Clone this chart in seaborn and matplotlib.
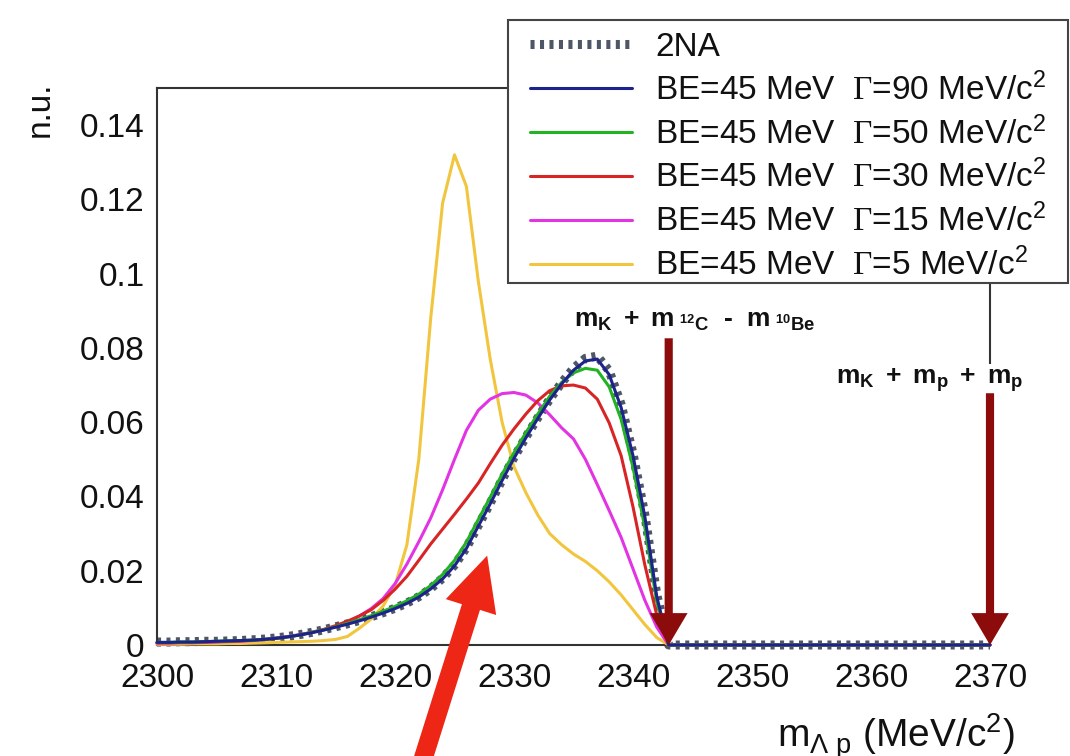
import numpy as np
import pandas as pd
import matplotlib
matplotlib.use("Agg")
import matplotlib.pyplot as plt
import seaborn as sns
from matplotlib.patches import FancyArrowPatch, Rectangle, ArrowStyle
from matplotlib.ticker import FuncFormatter, MultipleLocator

# ---------------------------------------------------------------- data
# invariant-mass bins (MeV/c^2) where the spectra are non-zero
mass = list(range(2300, 2344))
mass_max = 2370

spec_2na = [0.0008, 0.0008, 0.0009, 0.0009, 0.0010, 0.0010, 0.0011, 0.0012, 0.0014, 0.0016,
            0.0019, 0.0023, 0.0028, 0.0034, 0.0041, 0.0049, 0.0057, 0.0066, 0.0076, 0.0087,
            0.0099, 0.0113, 0.0130, 0.0152, 0.0180, 0.0215, 0.0262, 0.0322, 0.0382, 0.0445,
            0.0505, 0.0560, 0.0612, 0.0662, 0.0706, 0.0745, 0.0772, 0.0778, 0.0738, 0.0648,
            0.0515, 0.0350, 0.0135, 0.0]
spec_g90 = [0.0007, 0.0007, 0.0008, 0.0008, 0.0009, 0.0010, 0.0011, 0.0012, 0.0013, 0.0015,
            0.0018, 0.0022, 0.0027, 0.0033, 0.0040, 0.0048, 0.0056, 0.0065, 0.0075, 0.0086,
            0.0098, 0.0112, 0.0129, 0.0151, 0.0178, 0.0213, 0.0260, 0.0320, 0.0380, 0.0443,
            0.0503, 0.0558, 0.0610, 0.0660, 0.0703, 0.0740, 0.0765, 0.0770, 0.0728, 0.0640,
            0.0510, 0.0345, 0.0130, 0.0]
spec_g50 = [0.0007, 0.0007, 0.0008, 0.0008, 0.0009, 0.0010, 0.0011, 0.0012, 0.0013, 0.0015,
            0.0018, 0.0022, 0.0027, 0.0034, 0.0041, 0.0049, 0.0058, 0.0068, 0.0079, 0.0091,
            0.0104, 0.0119, 0.0137, 0.0160, 0.0190, 0.0228, 0.0277, 0.0338, 0.0398, 0.0460,
            0.0518, 0.0572, 0.0622, 0.0670, 0.0707, 0.0733, 0.0745, 0.0740, 0.0695, 0.0608,
            0.0478, 0.0315, 0.0115, 0.0]
spec_g30 = [0.0006, 0.0006, 0.0007, 0.0007, 0.0008, 0.0009, 0.0010, 0.0011, 0.0013, 0.0015,
            0.0018, 0.0022, 0.0027, 0.0034, 0.0042, 0.0052, 0.0064, 0.0078, 0.0095, 0.0120,
            0.0150, 0.0185, 0.0228, 0.0272, 0.0312, 0.0352, 0.0393, 0.0436, 0.0488, 0.0538,
            0.0582, 0.0622, 0.0658, 0.0685, 0.0698, 0.0700, 0.0692, 0.0662, 0.0598, 0.0510,
            0.0372, 0.0215, 0.0080, 0.0]
spec_g15 = [0.0005, 0.0005, 0.0006, 0.0006, 0.0007, 0.0008, 0.0009, 0.0010, 0.0012, 0.0015,
            0.0019, 0.0023, 0.0028, 0.0034, 0.0041, 0.0050, 0.0062, 0.0078, 0.0098, 0.0125,
            0.0165, 0.0218, 0.0278, 0.0342, 0.0418, 0.0500, 0.0578, 0.0632, 0.0662, 0.0677,
            0.0680, 0.0673, 0.0652, 0.0620, 0.0585, 0.0555, 0.0500, 0.0432, 0.0362, 0.0290,
            0.0205, 0.0120, 0.0048, 0.0]
spec_g5 = [0.0002, 0.0002, 0.0002, 0.0003, 0.0003, 0.0003, 0.0004, 0.0004, 0.0005, 0.0006,
           0.0007, 0.0008, 0.0009, 0.0010, 0.0012, 0.0015, 0.0023, 0.0045, 0.0070, 0.0105,
           0.0160, 0.0270, 0.0500, 0.0880, 0.1190, 0.1320, 0.1235, 0.0980, 0.0770, 0.0600,
           0.0480, 0.0410, 0.0350, 0.0300, 0.0270, 0.0245, 0.0225, 0.0200, 0.0170, 0.0135,
           0.0095, 0.0055, 0.0020, 0.0]

series_labels = ["2NA",
                 r"BE=45 MeV  $\Gamma$=90 MeV/c$^{\mathsf{2}}$",
                 r"BE=45 MeV  $\Gamma$=50 MeV/c$^{\mathsf{2}}$",
                 r"BE=45 MeV  $\Gamma$=30 MeV/c$^{\mathsf{2}}$",
                 r"BE=45 MeV  $\Gamma$=15 MeV/c$^{\mathsf{2}}$",
                 r"BE=45 MeV  $\Gamma$=5 MeV/c$^{\mathsf{2}}$"]
series_values = [spec_2na, spec_g90, spec_g50, spec_g30, spec_g15, spec_g5]
series_colors = ["#4f5766", "#1d238c", "#22b322", "#d82424", "#e234e2", "#f1c63e"]

# kinematic thresholds marked with arrows
threshold_mass = [2343, 2370]
threshold_top = [0.0826, 0.0678]
threshold_text = [r"$\mathbf{m_K\ +\ m_{\ {}^{12}C}}$  -  $\mathbf{m_{\ {}^{10}Be}}$",
                  r"$\mathbf{m_K\ +\ m_p\ +\ m_p}$"]
threshold_text_pos = [(2345.2, 0.0872), (2364.9, 0.0712)]

xticks = list(range(2300, 2371, 10))
yticks = [0, 0.02, 0.04, 0.06, 0.08, 0.10, 0.12, 0.14]

# ---------------------------------------------------------------- style
sns.set_theme(style="white")
plt.rcParams["font.family"] = ["Liberation Sans", "DejaVu Sans"]
plt.rcParams["mathtext.fontset"] = "custom"
plt.rcParams["mathtext.rm"] = "Liberation Serif"
plt.rcParams["mathtext.sf"] = "Liberation Sans"
plt.rcParams["mathtext.it"] = "Liberation Sans:italic"
plt.rcParams["mathtext.bf"] = "Liberation Sans:bold"

W, H = 1070, 756
fig = plt.figure(figsize=(W / 100, H / 100), dpi=100)
fig.patch.set_facecolor("white")
ax = fig.add_axes([157 / W, 1 - 645 / H, (990 - 157) / W, (645 - 88) / H])

# full mass axis: spectra vanish above the kinematic limit
full_mass = np.arange(2300, mass_max + 1)
frames = []
for lab, vals in zip(series_labels, series_values):
    v = np.zeros(len(full_mass))
    v[:len(vals)] = vals
    frames.append(pd.DataFrame({"mass": full_mass, "nu": v, "model": lab}))
df = pd.concat(frames, ignore_index=True)

# 2NA: thick dotted line underneath
sub = df[df.model == series_labels[0]]
sns.lineplot(data=sub, x="mass", y="nu", ax=ax, color=series_colors[0], lw=6.5,
             linestyle=(0, (0.45, 0.6)), label=series_labels[0], zorder=2)
# Lambda-p spectra for different widths, narrowest first so the broad ones sit on top
for i in [5, 4, 3, 2, 1]:
    sub = df[df.model == series_labels[i]]
    sns.lineplot(data=sub, x="mass", y="nu", ax=ax, color=series_colors[i], lw=2.2,
                 label=series_labels[i], zorder=3 + (5 - i))
for ln in ax.lines:
    ln.set_clip_on(False)

ax.set_xlim(2300, mass_max)
ax.set_ylim(0, 0.15)
ax.set_xticks(xticks)
ax.xaxis.set_minor_locator(MultipleLocator(2))
ax.set_yticks(yticks)
ax.yaxis.set_minor_locator(MultipleLocator(0.004))
ax.yaxis.set_major_formatter(FuncFormatter(lambda v, p: f"{v:g}"))

tick_col = "#333333"
ax.tick_params(axis="both", which="both", direction="in", colors=tick_col,
               labelcolor="#111111", width=1.1, labelsize=24)
ax.tick_params(axis="x", which="major", length=12, pad=13)
ax.tick_params(axis="x", which="minor", length=6)
ax.tick_params(axis="y", which="major", length=17, pad=9)
ax.tick_params(axis="y", which="minor", length=9)
for s in ax.spines.values():
    s.set_visible(True)
    s.set_color(tick_col)
    s.set_linewidth(1.5)
ax.grid(False)

ax.set_ylabel("n.u.", fontsize=24, color="#111111")
ax.yaxis.set_label_coords(-0.121, 1.012)
ax.yaxis.label.set_ha("right")
ax.set_xlabel(r"m$_{\mathsf{\Lambda\ p}}$ (MeV/c$^{\mathsf{2}}$)", fontsize=28, color="#111111")
ax.xaxis.set_label_coords(1.03, -0.185)
ax.xaxis.label.set_ha("right")
ax.xaxis.label.set_va("baseline")

# threshold arrows and labels
for m, top, txt, (tx, ty) in zip(threshold_mass, threshold_top, threshold_text, threshold_text_pos):
    ax.annotate("", xy=(m, 0), xytext=(m, top),
                arrowprops=dict(arrowstyle=ArrowStyle.Simple(head_length=0.82, head_width=0.97,
                                                             tail_width=0.21),
                                mutation_scale=28, color="#8c0b0b", lw=0,
                                shrinkA=0, shrinkB=0),
                annotation_clip=False, zorder=8)
    ax.text(tx, ty, txt, fontsize=19, fontweight="bold", ha="center", va="center",
            color="#111111", bbox=dict(facecolor="white", edgecolor="none", pad=2), zorder=7)

# legend with its own box, sitting above the frame
hmap = dict(zip(*ax.get_legend_handles_labels()[::-1]))
handles = [hmap[lab] for lab in series_labels]
if ax.get_legend():
    ax.get_legend().remove()
frame = Rectangle((508 / W, 1 - 283 / H), 560 / W, 263 / H, transform=fig.transFigure,
                  facecolor="white", edgecolor="#444444", lw=1.5, zorder=4)
fig.add_artist(frame)
leg = fig.legend(handles, series_labels, loc="upper left", bbox_to_anchor=(530 / W, 1 - 32 / H),
                 bbox_transform=fig.transFigure, frameon=False, fontsize=24,
                 handlelength=3.06, handletextpad=0.69, labelspacing=0.28,
                 borderpad=0, borderaxespad=0)
leg.set_zorder(5)
for t in leg.get_texts():
    t.set_color("#111111")

# pointer arrow
pointer = FancyArrowPatch(posA=(418 / W, 1 - 775 / H), posB=(488 / W, 1 - 553 / H),
                          transform=fig.transFigure,
                          arrowstyle=ArrowStyle.Simple(head_length=0.97, head_width=0.95,
                                                       tail_width=0.34),
                          mutation_scale=40, color="#ee2616", lw=0, zorder=10)
fig.add_artist(pointer)

fig.savefig("out.png", dpi=100, facecolor="white")
